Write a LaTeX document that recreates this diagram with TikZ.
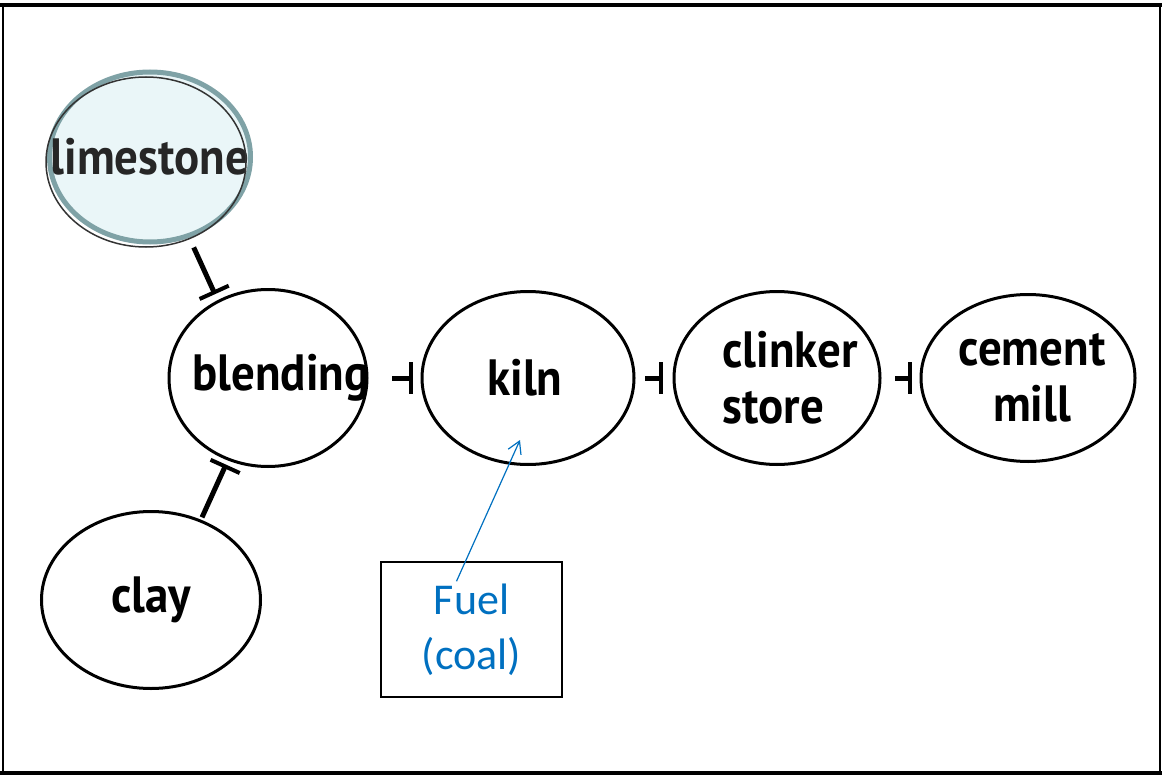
\documentclass[tikz,border=0pt]{standalone}
\usepackage{fontspec}
\setmainfont{Carlito}
\newfontfamily\labfont[FakeStretch=0.92]{PT Sans}
\usetikzlibrary{positioning,shapes.geometric,arrows.meta}
\definecolor{fuelblue}{HTML}{0070C0}
\definecolor{limeedge}{HTML}{7FA2A6}
\definecolor{limefill}{HTML}{EAF6F8}

\begin{document}
\begin{tikzpicture}[x=1pt,y=-1pt,
    stage/.style={ellipse,draw,line width=3pt,minimum width=212pt,minimum height=173pt,inner sep=0pt,outer sep=0pt},
    stagetext/.style={font=\labfont\bfseries\fontsize{51}{56}\selectfont,align=center,inner sep=0pt},
    feed/.style={line width=5pt,-{Bar[width=32pt,line width=4pt]}},
    fuelbox/.style={draw,line width=1.5pt,minimum width=181pt,minimum height=135pt,inner sep=0pt,align=center,text=fuelblue,font=\fontsize{44}{55}\selectfont},
    fuelarrow/.style={fuelblue,line width=1.2pt,-{Straight Barb[length=12pt,width=14pt,line width=1.2pt]}}]
    \useasboundingbox (0,0) rectangle (1162,776);
    % frame
    \draw[line width=2pt] (3,5) rectangle (1160,773);
    \draw[line width=4pt] (0,5) -- (1162,5);
    \draw[line width=4pt] (0,773) -- (1162,773);
    %
    \node[stage,minimum width=198pt,minimum height=177pt,label={[stagetext,xshift=13pt]center:blending}](blending) at (268,378) {};
    \node[stage,right=55pt of blending,label={[stagetext,xshift=-3pt]center:kiln}](kiln) {};
    \node[stage,minimum width=206pt,right=40pt of kiln,label={[stagetext,align=left,xshift=13pt]center:clinker\\store}](clinker) {};
    \node[stage,minimum width=214pt,minimum height=167pt,right=41pt of clinker,label={[stagetext,xshift=4pt]center:cement\\mill}](cement) {};
    %
    \node[stage,draw=limeedge,fill=limefill,line width=5pt,minimum width=201pt,minimum height=170pt,label={[stagetext,text=black!85]center:limestone}](limestone) at (150,157) {};
    \draw[black!80,line width=1.5pt] ([xshift=-4pt,yshift=-5pt]limestone.center) ellipse [x radius=100pt,y radius=85pt];
    \node[stage,minimum width=219pt,minimum height=177pt,label={[stagetext]center:clay}](clay) at (151,600) {};
    %
    \node[fuelbox](fuel) at (471.5,629.5) {Fuel\\(coal)};
    %
    \draw[feed,shorten <=13pt,shorten >=8pt] (limestone.-64) -- (blending.123);
    \draw[feed,shorten <=4pt,shorten >=6pt] (clay.58) -- (blending.-116);
    \draw[feed,shorten <=25pt,shorten >=9pt] (blending) -- (kiln);
    \draw[feed,shorten <=11pt,shorten >=11pt] (kiln) -- (clinker);
    \draw[feed,shorten <=15pt,shorten >=9pt] (clinker) -- (cement);
    \draw[fuelarrow] ([xshift=-15pt,yshift=-20pt]fuel.north) -- ([xshift=-8pt,yshift=-62pt]kiln.center);
\end{tikzpicture}
\end{document}
